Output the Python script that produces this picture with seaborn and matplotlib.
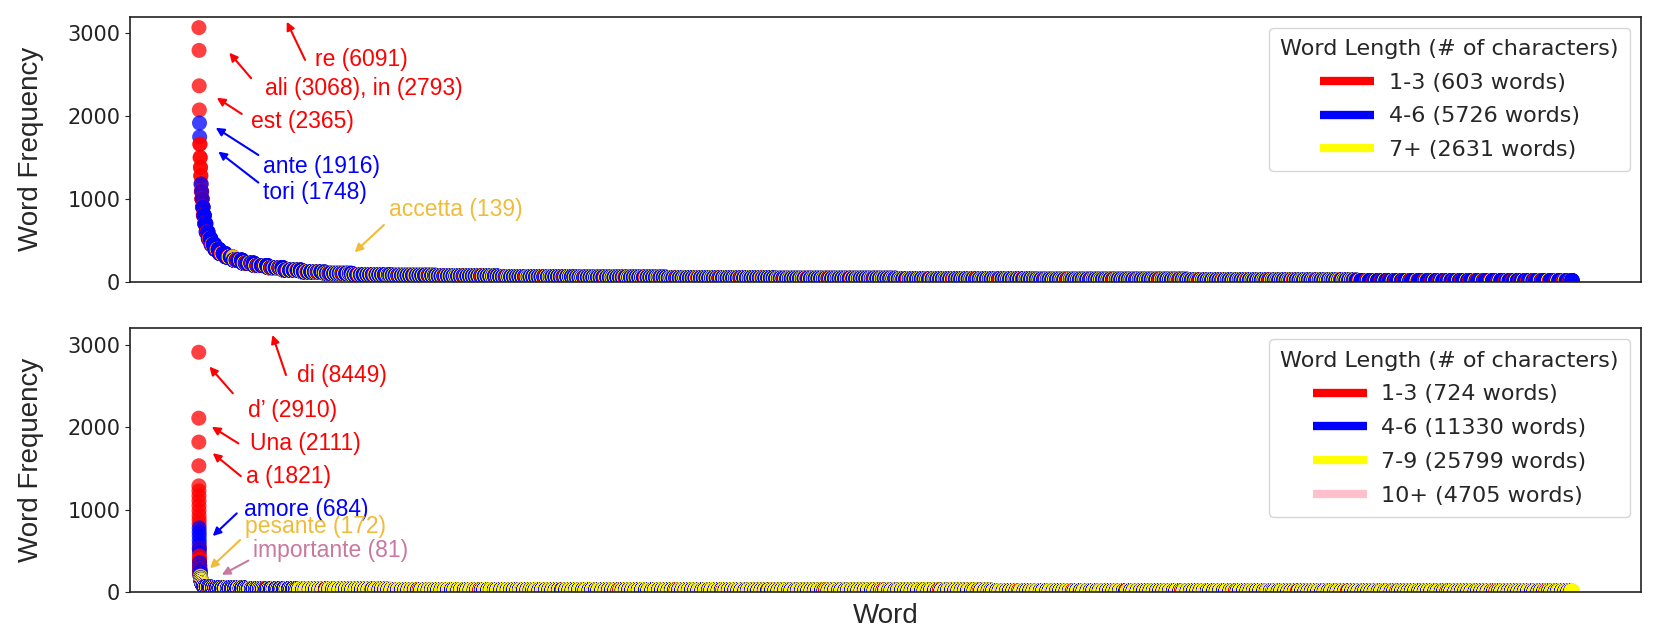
import numpy as np
import pandas as pd
import matplotlib
matplotlib.use('Agg')
import matplotlib.pyplot as plt
from matplotlib.lines import Line2D
import seaborn as sns

# ---- top panel: word counts, most frequent words first ----
top_classes = ['1-3', '4-6', '7+']
top_head_freq = [6091, 3068, 2793, 2365, 2074, 1916, 1748]
top_head_class = ['1-3', '1-3', '1-3', '1-3', '1-3', '4-6', '4-6']
# frequency levels after the head, with number of words of each length class
top_level_freq = [1660, 1500, 1380, 1280, 1180, 1090, 1000, 900, 800, 700,
                  600, 520, 450, 390, 340, 300, 260, 225, 195, 170,
                  139, 120, 100, 85, 76, 68, 60, 53, 46, 40,
                  34, 28, 21, 14]
top_level_short = [2, 2, 2, 2, 1, 2, 3, 4, 4, 4,
                   5, 5, 6, 6, 7, 7, 8, 9, 10, 10,
                   11, 12, 13, 15, 17, 20, 24, 27, 30, 33,
                   36, 40, 43, 178]
top_level_mid = [0, 0, 0, 0, 1, 1, 1, 2, 4, 6,
                 9, 12, 17, 21, 28, 36, 42, 52, 62, 68,
                 80, 98, 115, 160, 190, 250, 310, 370, 430, 490,
                 545, 600, 650, 1074]
top_level_long = [0, 0, 0, 0, 0, 0, 0, 0, 0, 0,
                  0, 1, 2, 3, 5, 7, 10, 14, 18, 22,
                  29, 40, 52, 75, 93, 130, 166, 203, 240, 277,
                  319, 360, 407, 158]

top_note_words = [['re'], ['ali', 'in'], ['est'], ['ante'], ['tori'], ['accetta']]
top_note_counts = [[6091], [3068, 2793], [2365], [1916], [1748], [139]]

# ---- bottom panel ----
bot_classes = ['1-3', '4-6', '7-9', '10+']
bot_head_freq = [8449, 2910, 2111, 1821, 1534]
bot_head_class = ['1-3', '1-3', '1-3', '1-3', '1-3']
bot_level_freq = [1290, 1230, 1170, 1110, 1050, 990, 930, 880, 830,
                  780, 730, 684, 630, 580, 530, 480,
                  440, 400, 360, 320, 280, 250, 220,
                  195, 172, 150, 130, 110, 95, 81,
                  70, 62, 56, 48, 42, 36, 31, 27, 23, 18, 12]
bot_level_short = [1, 1, 1, 1, 1, 1, 1, 1, 1,
                   0, 0, 0, 0, 0, 1, 0,
                   1, 2, 2, 2, 3, 3, 3,
                   3, 3, 4, 4, 5, 5, 6,
                   7, 10, 15, 20, 30, 40, 60, 90, 110, 130, 151]
bot_level_mid = [0, 0, 0, 0, 0, 0, 0, 0, 0,
                 1, 1, 1, 1, 1, 1, 1,
                 0, 0, 1, 1, 1, 2, 3,
                 4, 5, 7, 9, 13, 18, 25,
                 40, 80, 180, 450, 900, 700, 1090, 1550, 1890, 2110, 2244]
bot_level_long = [0, 0, 0, 0, 0, 0, 0, 0, 0,
                  0, 0, 0, 0, 0, 0, 0,
                  0, 0, 0, 0, 0, 0, 0,
                  1, 1, 2, 3, 4, 6, 9,
                  14, 30, 80, 250, 600, 1790, 2800, 4010, 4910, 5480, 5809]
bot_level_xlong = [0, 0, 0, 0, 0, 0, 0, 0, 0,
                   0, 0, 0, 0, 0, 0, 0,
                   0, 0, 0, 0, 0, 0, 0,
                   0, 0, 0, 0, 0, 1, 1,
                   3, 6, 15, 50, 110, 330, 510, 730, 890, 1000, 1059]

bot_note_words = [['di'], ["d’"], ['Una'], ['a'], ['amore'], ['pesante'], ['importante']]
bot_note_counts = [[8449], [2910], [2111], [1821], [684], [172], [81]]

# where the notes go (axes fraction): text anchor, arrow tail, arrow head
top_note_text = [(0.1224, 0.837), (0.0893, 0.730), (0.0801, 0.604), (0.0878, 0.434), (0.0878, 0.336), (0.1716, 0.271)]
top_note_tail = [(0.1158, 0.837), (0.0801, 0.768), (0.0739, 0.633), (0.0849, 0.478), (0.0849, 0.374), (0.1680, 0.214)]
top_note_head = [(0.1037, 0.981), (0.0657, 0.864), (0.0574, 0.694), (0.0567, 0.581), (0.0584, 0.491), (0.1486, 0.111)]
bot_note_text = [(0.1103, 0.823), (0.0783, 0.690), (0.0794, 0.562), (0.0768, 0.440), (0.0754, 0.314), (0.0761, 0.251), (0.0816, 0.160)]
bot_note_tail = [(0.1032, 0.823), (0.0680, 0.754), (0.0717, 0.564), (0.0733, 0.440), (0.0706, 0.299), (0.0728, 0.198), (0.0783, 0.120)]
bot_note_head = [(0.0942, 0.975), (0.0525, 0.855), (0.0541, 0.627), (0.0547, 0.527), (0.0547, 0.213), (0.0529, 0.091), (0.0607, 0.066)]

palette_top = {'1-3': 'red', '4-6': 'blue', '7+': 'yellow'}
palette_bot = {'1-3': 'red', '4-6': 'blue', '7-9': 'yellow', '10+': 'pink'}
note_colors = {'1-3': 'red', '4-6': 'blue', '7+': '#f0bc38', '7-9': '#f0bc38', '10+': '#c9789f'}


def length_class(word, classes):
    n = len(word)
    for c in classes:
        if c.endswith('+'):
            if n >= int(c[:-1]):
                return c
        else:
            lo, hi = c.split('-')
            if int(lo) <= n <= int(hi):
                return c


def build_frame(head_freq, head_class, level_freq, level_counts, classes, run):
    freqs = list(head_freq)
    cls = list(head_class)
    for i, f in enumerate(level_freq):
        # words of one frequency level, classes mixed in short runs
        blocks = []
        for c, counts in zip(classes, level_counts):
            n = counts[i]
            for start in range(0, n, run):
                size = min(run, n - start)
                blocks.append(((start + size / 2) / n, c, size))
        blocks.sort(key=lambda b: b[0])
        for _, c, size in blocks:
            freqs += [f] * size
            cls += [c] * size
    df = pd.DataFrame({'freq': freqs, 'length': cls})
    df['rank'] = np.arange(len(df))
    return df


top_df = build_frame(top_head_freq, top_head_class, top_level_freq,
                     [top_level_short, top_level_mid, top_level_long], top_classes, 6)
bot_df = build_frame(bot_head_freq, bot_head_class, bot_level_freq,
                     [bot_level_short, bot_level_mid, bot_level_long, bot_level_xlong], bot_classes, 25)

sns.set_style('ticks')
plt.rcParams['font.family'] = ['DejaVu Sans']

fig = plt.figure(figsize=(16.61, 6.37), dpi=100)
ax1 = fig.add_axes([0.0783, 0.5578, 0.9097, 0.4160])
ax2 = fig.add_axes([0.0783, 0.0702, 0.9097, 0.4144])


def draw_panel(ax, df, classes, palette, note_words, note_counts, note_text, note_tail, note_head):
    sns.scatterplot(data=df, x='rank', y='freq', hue='length', hue_order=classes,
                    palette=palette, s=117, alpha=0.75, linewidth=0, legend=False, ax=ax)
    ax.set_ylim(0, 3200)
    ax.set_yticks([0, 1000, 2000, 3000])
    ax.set_xticks([])
    ax.tick_params(axis='y', labelsize=15, colors='#222222')
    ax.set_xlabel('')
    ax.set_ylabel('Word Frequency', fontsize=20, family='Liberation Sans')
    ax.yaxis.set_label_coords(-0.057, 0.5)
    for sp in ax.spines.values():
        sp.set_color('#222222')
        sp.set_linewidth(1.2)

    for words, counts, tpos, tail, head in zip(note_words, note_counts, note_text, note_tail, note_head):
        label = ', '.join(f'{w} ({c})' for w, c in zip(words, counts))
        col = note_colors[length_class(words[0], classes)]
        ax.annotate('', xy=head, xytext=tail, xycoords='axes fraction', textcoords='axes fraction',
                    arrowprops=dict(arrowstyle='-|>', color=col, lw=1.5, mutation_scale=12,
                                    shrinkA=0, shrinkB=0))
        ax.text(tpos[0], tpos[1], label, transform=ax.transAxes, ha='left', va='center',
                color=col, fontsize=16.5, family='Liberation Sans')

    counts = df['length'].value_counts()
    handles = [Line2D([0], [0], color=palette[c], lw=6, solid_capstyle='butt') for c in classes]
    labels = [f'{c} ({counts[c]} words)' for c in classes]
    leg = ax.legend(handles, labels, title='Word Length (# of characters)', loc='upper right',
                    fontsize=16, title_fontsize=16, handlelength=2.45, handletextpad=0.65,
                    labelspacing=0.62, borderpad=0.5, frameon=True)
    leg.get_frame().set_edgecolor('#cccccc')


draw_panel(ax1, top_df, top_classes, palette_top, top_note_words, top_note_counts,
           top_note_text, top_note_tail, top_note_head)
draw_panel(ax2, bot_df, bot_classes, palette_bot, bot_note_words, bot_note_counts,
           bot_note_text, bot_note_tail, bot_note_head)

ax2.set_xlabel('Word', fontsize=20, family='Liberation Sans')
ax2.xaxis.set_label_coords(0.5, -0.04)

fig.savefig('out.png', dpi=100)
